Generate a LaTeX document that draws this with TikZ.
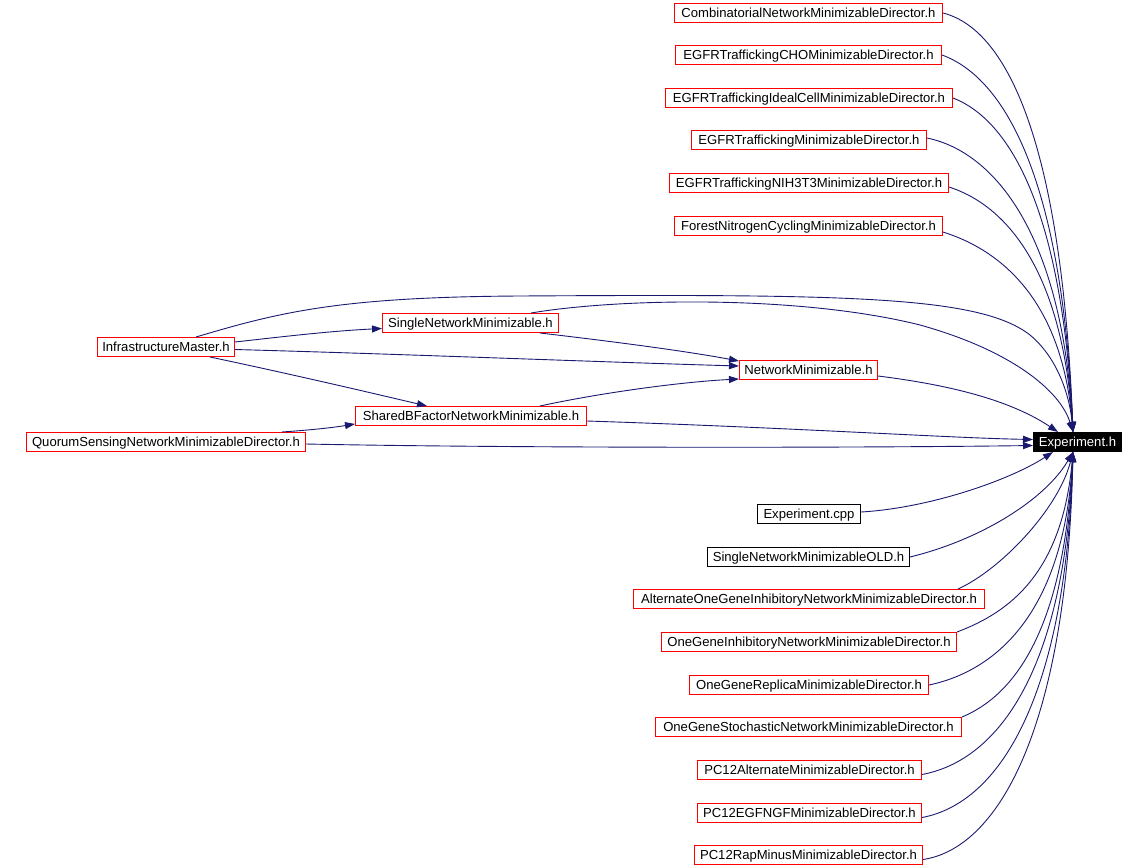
\documentclass[tikz,border=0pt]{standalone}
\usepackage{fontspec}
\setmainfont{Liberation Sans}
\usetikzlibrary{arrows.meta}
\definecolor{edgec}{RGB}{25,25,112}
\definecolor{boxred}{RGB}{255,0,0}
\begin{document}
\begin{tikzpicture}[x=1pt,y=-1pt,
  file/.style={draw=boxred, line width=1pt, inner sep=0pt, minimum height=19pt,
    text height=9.5pt, text depth=0pt, font=\fontsize{13.1}{15}\selectfont},
  filek/.style={file, draw=black},
  filecur/.style={file, draw=black, fill=black, text=white},
  link/.style={draw=edgec, line width=0.9pt, -{Triangle[length=10pt,width=7pt]}}]
\useasboundingbox (0,0) rectangle (1145,867);

% top column
\node[file, minimum width=268pt] (comb) at (808.5,13) {CombinatorialNetworkMinimizableDirector.h};
\node[file, minimum width=266pt] (cho) at (808.5,55) {EGFRTraffickingCHOMinimizableDirector.h};
\node[file, minimum width=287pt] (ideal) at (809,98) {EGFRTraffickingIdealCellMinimizableDirector.h};
\node[file, minimum width=235pt] (egfr) at (809,140) {EGFRTraffickingMinimizableDirector.h};
\node[file, minimum width=279pt] (nih) at (809,183) {EGFRTraffickingNIH3T3MinimizableDirector.h};
\node[file, minimum width=268pt] (forest) at (808.5,226) {ForestNitrogenCyclingMinimizableDirector.h};

% middle
\node[file, minimum width=137pt] (infra) at (166,347) {InfrastructureMaster.h};
\node[file, minimum width=176pt] (sing) at (470.5,323) {SingleNetworkMinimizable.h};
\node[file, minimum width=138pt] (netmin) at (808.5,370) {NetworkMinimizable.h};
\node[file, minimum width=231pt] (shared) at (471,416) {SharedBFactorNetworkMinimizable.h};
\node[file, minimum width=279pt] (quorum) at (166,442) {QuorumSensingNetworkMinimizableDirector.h};
\node[filecur, minimum width=88pt] (exp) at (1077.5,442) {Experiment.h};

% bottom column
\node[filek, minimum width=103pt] (expcpp) at (809,514) {Experiment.cpp};
\node[filek, minimum width=202pt] (old) at (808.5,557) {SingleNetworkMinimizableOLD.h};
\node[file, minimum width=351pt] (alt) at (809,599) {AlternateOneGeneInhibitoryNetworkMinimizableDirector.h};
\node[file, minimum width=295pt] (inhib) at (809,642) {OneGeneInhibitoryNetworkMinimizableDirector.h};
\node[file, minimum width=239pt] (replica) at (809,685) {OneGeneReplicaMinimizableDirector.h};
\node[file, minimum width=306pt] (stoch) at (808.5,727) {OneGeneStochasticNetworkMinimizableDirector.h};
\node[file, minimum width=224pt] (pcalt) at (809.5,770) {PC12AlternateMinimizableDirector.h};
\node[file, minimum width=224pt] (pcegf) at (809.5,813) {PC12EGFNGFMinimizableDirector.h};
\node[file, minimum width=228pt] (pcrap) at (808.5,855) {PC12RapMinusMinimizableDirector.h};

% targets
\coordinate (top) at ([xshift=-4.5pt]exp.north);
\coordinate (bot) at ([xshift=-4.5pt]exp.south);

% top group
\draw[link] (comb.east) .. controls (1010,30) and (1062,151) .. (top);
\draw[link] (cho.east) .. controls (1005,78) and (1062,179) .. (top);
\draw[link] (ideal.east) .. controls (1010,120) and (1062,210) .. (top);
\draw[link] ([yshift=2pt]egfr.east) .. controls (995,152) and (1062,235) .. (top);
\draw[link] ([yshift=-4pt]nih.east) .. controls (1005,205) and (1062,268) .. (top);
\draw[link] ([yshift=-6pt]forest.east) .. controls (1000,250) and (1062,299) .. (top);

% middle
\draw[link] ([xshift=30pt]infra.north) .. controls (280,312) and (340,297) .. (520,296)
  .. controls (850,294) and (980,296) .. (1030,335) .. controls (1060,360) and (1070,400) .. (top);
\draw[link] ([xshift=60.5pt]sing.north) .. controls (620,298) and (800,295) .. (920,325)
  .. controls (1010,350) and (1060,390) .. (top);
\draw[link] ([yshift=5pt]infra.east) .. controls (280,337) and (330,331) .. ([yshift=-5.5pt]sing.west);
\draw[link] ([yshift=-2.5pt]infra.east) .. controls (400,354) and (600,362) .. ([yshift=4pt]netmin.west);
\draw[link] ([xshift=44pt]infra.south) .. controls (300,376) and (380,395) .. ([xshift=-44pt]shared.north);
\draw[link] ([xshift=69.5pt]sing.south) .. controls (600,340) and (680,350) .. ([yshift=-1pt]netmin.north west);
\draw[link] ([xshift=69pt]shared.north) .. controls (600,393) and (680,382) .. ([yshift=1pt]netmin.south west);
\draw[link] ([xshift=116pt]quorum.north) .. controls (310,430) and (330,428) .. ([yshift=2pt]shared.south west);
\draw[link] ([yshift=-6pt]netmin.east) .. controls (950,385) and (1010,400) .. ([xshift=25pt]exp.north west);
\draw[link] ([yshift=-5pt]shared.east) .. controls (800,428) and (950,438) .. ([yshift=2.5pt]exp.west);
\draw[link] ([yshift=-2pt]quorum.east) .. controls (500,448) and (850,448) .. ([yshift=-3.5pt]exp.west);

% bottom group
\draw[link] ([yshift=2pt]expcpp.east) .. controls (930,508) and (1010,480) .. ([xshift=20pt]exp.south west);
\draw[link] (old.east) .. controls (980,540) and (1045,500) .. (bot);
\draw[link] ([xshift=-27pt]alt.north east) .. controls (1000,570) and (1058,510) .. (bot);
\draw[link] (inhib.north east) .. controls (1010,612) and (1062,573) .. (bot);
\draw[link] (replica.east) .. controls (1000,670) and (1064,608) .. (bot);
\draw[link] (stoch.north east) .. controls (1015,695) and (1064,629) .. (bot);
\draw[link] ([yshift=-4.5pt]pcalt.east) .. controls (1000,760) and (1065,667) .. (bot);
\draw[link] ([yshift=-4.5pt]pcegf.east) .. controls (1000,803) and (1066,696) .. (bot);
\draw[link] ([yshift=-4.5pt]pcrap.east) .. controls (1000,848) and (1067,724) .. (bot);
\end{tikzpicture}
\end{document}
